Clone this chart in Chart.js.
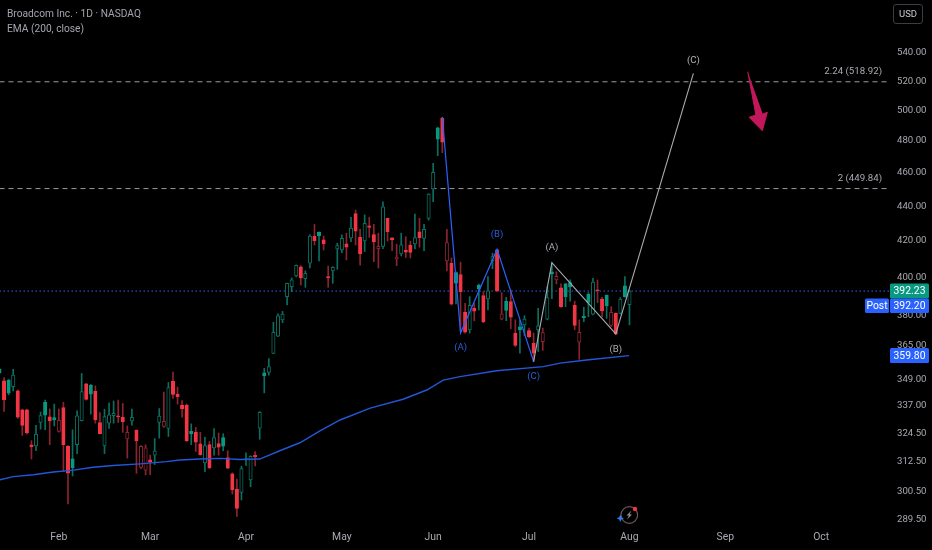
<!DOCTYPE html>
<html>
<head>
<meta charset="utf-8">
<title>Broadcom Inc. 1D</title>
<script src="https://cdn.jsdelivr.net/npm/chart.js@4"></script>
<style>
html,body{margin:0;padding:0;background:#000;width:932px;height:550px;overflow:hidden}
#wrap{position:relative;width:932px;height:550px;font-family:Roboto,sans-serif}
canvas{position:absolute;left:0;top:0}
.hdr{position:absolute;left:7px;color:#a3a6ad;font-size:10.2px;white-space:nowrap;line-height:14px}
#usd{position:absolute;left:893px;top:4px;width:28px;height:18px;border:1px solid #3a3d44;border-radius:3px;color:#c8cad0;font-size:9.5px;line-height:18px;text-align:center}
#logo{position:absolute;left:615px;top:502px}
</style>
</head>
<body>
<div id="wrap">
<canvas id="c" width="932" height="550"></canvas>
<div class="hdr" style="top:7px">Broadcom Inc. · 1D · NASDAQ</div>
<div class="hdr" style="top:22px">EMA (200, close)</div>
<div id="usd">USD</div>
<svg id="logo" width="26" height="26" viewBox="0 0 26 26">
<circle cx="14.3" cy="13" r="8.3" fill="none" stroke="#6f5560" stroke-width="1.2"/>
<path d="M16.5 8.5 L11.5 13.5 L14 13.5 L12 17.5 L17 12.5 L14.5 12.5 Z" fill="#9a8f95"/>
<circle cx="20" cy="7" r="2.2" fill="#f23645"/>
<path d="M5.3 12.5 L6.4 15.2 L9 16.3 L6.4 17.4 L5.3 20 L4.2 17.4 L1.6 16.3 L4.2 15.2 Z" fill="#2f7bf0"/>
</svg>
</div>
<script>
const opens=[353.3,347.9,348.2,345.2,343.2,334.6,334.6,319.3,318.9,329,338,331.5,331.2,325.1,335.6,318.7,313.4,319.4,329.8,346.4,345.8,343,329,318.9,328.7,332,331.8,331.3,321.8,329.7,325.7,309.8,308.7,313,314.9,329,327.3,326.4,347.6,341.7,336.7,336.7,325.1,324.8,319.7,311.7,319.4,318,319.8,322.4,313.9,307.2,301,299.6,313.4,304.7,314.9,326.5,
351.6,351.8,360.8,369.3,377.4,389.3,394.5,400.2,405.2,398.8,407.1,422,424.3,420,399.9,403,415,414.4,417.8,421.1,435.1,421.5,419.4,428,423,415.1,416.3,432.3,421.1,409.3,412.2,414.2,417,417.8,424.5,420.9,432.3,449.6,487.9,494.1,408.4,407.1,402,401,381.2,372.4,383.3,395.3,389.8,388.1,408.5,414.4,377.8,386.9,386.7,370.8,373.9,374.9,372,365.8,372.4,366.6,377.8,402.5,398.1,393.9,396,396.7,385,366.3,379.2,390.5,380.3,392.8,388,390,374.6,380.7,380.7,395,385.1];
const highs=[353.7,349.4,348.5,353.3,343.7,334.9,334.9,321.1,327.7,333.6,339,335,337.2,335,338,319,325.8,334.2,351.3,346.7,346.2,345.5,333.4,334.9,337.8,338.6,339,337.5,327.5,334.9,325.8,319,319.3,315,322,335.2,342.6,347.1,351.9,344.9,338.8,337.2,328.4,326.8,324.7,322.5,320.8,326.3,324.4,324.1,316.8,307.6,305,310.3,315.9,314.7,316.4,333.8,
353.7,358.3,376.2,380.4,381.7,396.5,399.2,406.2,405.8,403,422.8,428.8,424.6,422.2,405.6,405.2,418.1,422.8,423.8,432.9,437.1,426,434.3,432.9,428.8,423.8,441.9,432.4,421.3,417.6,423.8,421.8,419.3,434.8,432.3,428.9,446.8,465.3,488.4,495,426,410,402.5,407.7,385.9,389.3,385.9,395.9,391.9,399.9,412.6,414.8,391.4,389,392.8,377.4,377,379.5,373.3,370.8,383.3,373.3,394.5,407.4,402.5,396,396.3,398.1,387,377.4,383.8,391.4,399,398.1,389,390.2,384.1,381,388.8,399.9,392.8];
const lows=[351.3,333.9,341.4,343.2,330.8,323.4,324,313.3,316.8,326.1,325.8,319.4,327.5,324.8,308.3,295,306.3,315.6,329.7,339,332.7,328.7,324,315.6,326.4,328.7,329,324.7,313.7,327.8,307.4,309.3,306.7,306.8,311,322.2,326.8,322.9,339.8,337.2,331.3,320.7,319.4,316.5,314.9,308.1,309.3,314.9,314.9,316.8,309.3,299,290.2,296.6,310.6,301.9,310.4,321.7,
342.3,350.5,360.7,369,376,385,391.9,399.7,395.4,394.2,404.5,417.2,408.4,414.4,394.2,396.3,403.8,412.9,408.9,419,417.2,406,413.5,421.5,408,404.5,415.1,419.4,414,405.8,411.1,410.2,410,415,415.9,414,431.3,442,470.1,472,402.9,385,385.5,371.9,370.8,370.8,376.9,382.4,376,382.4,404.1,391.9,377.4,377,373,364.2,361,369.5,368.5,356.9,361.8,362.3,377.4,388.3,396,383.8,384.1,387,372.4,358,376.5,379,379.9,386.2,379,378.2,374.1,370,380.4,389,374.9];
const closes=[351.6,339.2,342.2,350.5,331.3,327.7,324.4,318.4,323.9,332,332.2,329.7,330.1,330,319.4,307.4,309.7,331.9,342.9,339.3,341.7,330.1,324.1,331.6,332.4,333,331.5,329.4,324.7,331.3,321,318.7,318,312,316.7,331.8,329.5,344.7,341.6,340.6,335,321.1,324,320.4,315.1,319,309.7,322.4,318.3,318.7,309.5,300.7,293.3,309.3,313,314.4,314.3,333.5,
350.2,354.5,371.2,379.4,380.3,396.3,398.1,406,399.2,401.6,422.2,419.6,422.4,417.8,399.2,404.9,416.8,420.9,416,426.7,425,412.2,429.4,427.1,418.9,416.4,439,424.7,420.2,410.5,417.2,413.1,413,421.3,421.2,426,446.6,459.7,480.6,478.6,418.5,385.4,396.4,391.9,371.3,384.8,381.8,393.5,376.4,392.3,410.7,392.3,380.4,382.2,378.8,364.7,372.4,377.8,369,361,374.4,371,388.8,401.3,400,384.1,389.3,394.6,374.6,371.2,378.5,386.3,396.9,392.4,382.1,384.5,381.2,370.4,388.1,389.3,392.23];

const emaIdx=[0,3,7.4,11.8,16.2,20.5,24.9,30.8,36.6,39.5,43.9,48.3,52.7,57,61.4,65.8,70.2,74.6,81.2,88.4,93.6,97.2,100.9,108.9,119.1,122.8,128.6,137.9];
const emaVals=[304.7,306,306.8,307.9,308.7,309.9,310.6,311.3,312.2,312.9,313.3,313.6,313.1,313.3,316.8,320.2,325.3,330.1,335.4,339.4,343.6,348.2,349.8,352.6,354.5,356.2,357.7,359.8];

const blueWaveIdx=[97,101,109,117];
const blueWaveVals=[495,370.8,414.8,356.9];
const whiteWaveIdx=[117,121,135,152];
const whiteWaveVals=[356.9,407.4,370.4,524.8];
const arrowIdx=[163.9,165.7,164.2,167.1,168.2,167.2];
const arrowVals=[526,496.3,494.9,486,498.2,497];

const yTicks=[289.5,300.5,312.5,324.5,337,349,365,380,400,420,440,460,480,500,520,540];
const monthLabels=['Feb','Mar','Apr','May','Jun','Jul','Aug','Sep','Oct'];
const monthIdx=[13,33,54,75,95,116,138,159,180];
const fibLevels=[518.92,449.84];
const fibLabels=['2.24 (518.92)','2 (449.84)'];
const lastPrice=392.23, postPrice=392.20, emaLast=359.80;
const waveLabels=[
 [101,'(A)',370.8,'#2a5fd8',15],[109,'(B)',414.8,'#2a5fd8',-15],[117,'(C)',356.9,'#2a5fd8',15],
 [121,'(A)',407.4,'#a8aab0',-15],[135,'(B)',370.4,'#a8aab0',16],[152,'(C)',524.8,'#b0b2b8',-13]];

const FONT='Roboto,sans-serif';
const UP='#089981',DOWN='#f23645',UPDIM='#0b6f60',DOWNDIM='#8c2430';
const isUp=closes.map((c,i)=>i===0?true:c>=closes[i-1]);
const isHollow=closes.map((c,i)=>c>opens[i]);
const idx=closes.map((_,i)=>i);

const overlay={id:'overlay',afterDatasetsDraw(ch){
  const c=ch.ctx,x=ch.scales.x,y=ch.scales.y,R=ch.chartArea.right;
  c.save();c.textBaseline='middle';
  c.font='9.6px '+FONT;c.textAlign='center';
  waveLabels.forEach(l=>{c.fillStyle=l[3];c.fillText(l[1],x.getPixelForValue(l[0]),y.getPixelForValue(l[2])+l[4]);});
  c.fillStyle='#a8aab0';c.textAlign='right';c.font='9.7px '+FONT;
  fibLevels.forEach((v,i)=>c.fillText(fibLabels[i],R-7,y.getPixelForValue(v)-10));
  c.font='10.4px '+FONT;c.textAlign='center';
  const box=(bx,by,w,h,col,t)=>{c.fillStyle=col;c.beginPath();c.roundRect(bx,by,w,h,1.5);c.fill();c.fillStyle='#fff';c.fillText(t,bx+w/2,by+h/2+.5);};
  const py=y.getPixelForValue(lastPrice);
  box(890,py-7.5,39,15,UP,lastPrice.toFixed(2));
  box(890,py+7.5,39,14.5,'#2962ff',postPrice.toFixed(2));
  box(865,py+7.5,24,14.5,'#2962ff','Post');
  box(890,y.getPixelForValue(emaLast)-7.5,39,15,'#2962ff',emaLast.toFixed(2));
  c.restore();
}};

const lineDs=(xs,ys,col,w,order,extra)=>Object.assign({type:'line',data:xs.map((v,i)=>({x:v,y:ys[i]})),borderColor:col,borderWidth:w,pointRadius:0,tension:0,fill:false,order:order},extra||{});
const xEnds=[0,195];
const noPad=s=>{s.paddingTop=0;s.paddingBottom=0;s.paddingLeft=0;s.paddingRight=0;};

new Chart(document.getElementById('c'),{
  data:{datasets:[
    lineDs(arrowIdx,arrowVals,'#c2185b',1,0,{fill:'shape',backgroundColor:'#c2185b'}),
    lineDs(whiteWaveIdx,whiteWaveVals,'#a9abb0',1.1,0),
    lineDs(blueWaveIdx,blueWaveVals,'#2962ff',1.2,0),
    lineDs(emaIdx,emaVals,'#2456d8',1.4,1),
    {type:'bar',data:idx.map(i=>({x:i,y:[opens[i],closes[i]]})),barThickness:3.4,grouped:false,minBarLength:1,borderWidth:1,borderSkipped:false,
      backgroundColor:idx.map(i=>isHollow[i]?'#000':(isUp[i]?UP:DOWN)),
      borderColor:idx.map(i=>isHollow[i]?(isUp[i]?UPDIM:DOWNDIM):(isUp[i]?UP:DOWN)),order:2},
    {type:'bar',data:idx.map(i=>({x:i,y:[lows[i],highs[i]]})),barThickness:1,grouped:false,borderWidth:0,
      backgroundColor:idx.map(i=>isUp[i]?UPDIM:DOWNDIM),order:3},
    lineDs(xEnds,[lastPrice,lastPrice],'#2962ff',1,4,{borderDash:[1.5,2.5]}),
    lineDs(xEnds,[fibLevels[0],fibLevels[0]],'#9a9ca1',1,4,{borderDash:[5,4]}),
    lineDs(xEnds,[fibLevels[1],fibLevels[1]],'#9a9ca1',1,4,{borderDash:[5,4]})
  ]},
  options:{
    responsive:false,animation:false,devicePixelRatio:1,
    layout:{padding:0},
    plugins:{legend:{display:false},tooltip:{enabled:false},title:{display:false}},
    scales:{
      x:{type:'linear',min:0.11,max:194.85,offset:false,
        grid:{display:false,drawTicks:false},border:{display:false},
        afterBuildTicks(s){s.ticks=monthIdx.map(v=>({value:v}));},
        afterFit(s){s.height=28;noPad(s);},
        ticks:{autoSkip:false,maxRotation:0,padding:9,color:'#a8aab0',font:{family:FONT,size:10.4},
          callback(v){const i=monthIdx.indexOf(v);return i<0?'':monthLabels[i];}}},
      y:{type:'logarithmic',position:'right',min:288,max:578.9,bounds:'data',
        grid:{display:false,drawTicks:false},border:{display:false},
        afterBuildTicks(s){s.ticks=yTicks.map(v=>({value:v}));},
        afterFit(s){s.width=43;noPad(s);},
        ticks:{autoSkip:false,padding:8,labelOffset:1,color:'#a8aab0',font:{family:FONT,size:9.6},
          callback(v){return Number(v).toFixed(2);}}}
    }
  },
  plugins:[overlay]
});
</script>
</body>
</html>
